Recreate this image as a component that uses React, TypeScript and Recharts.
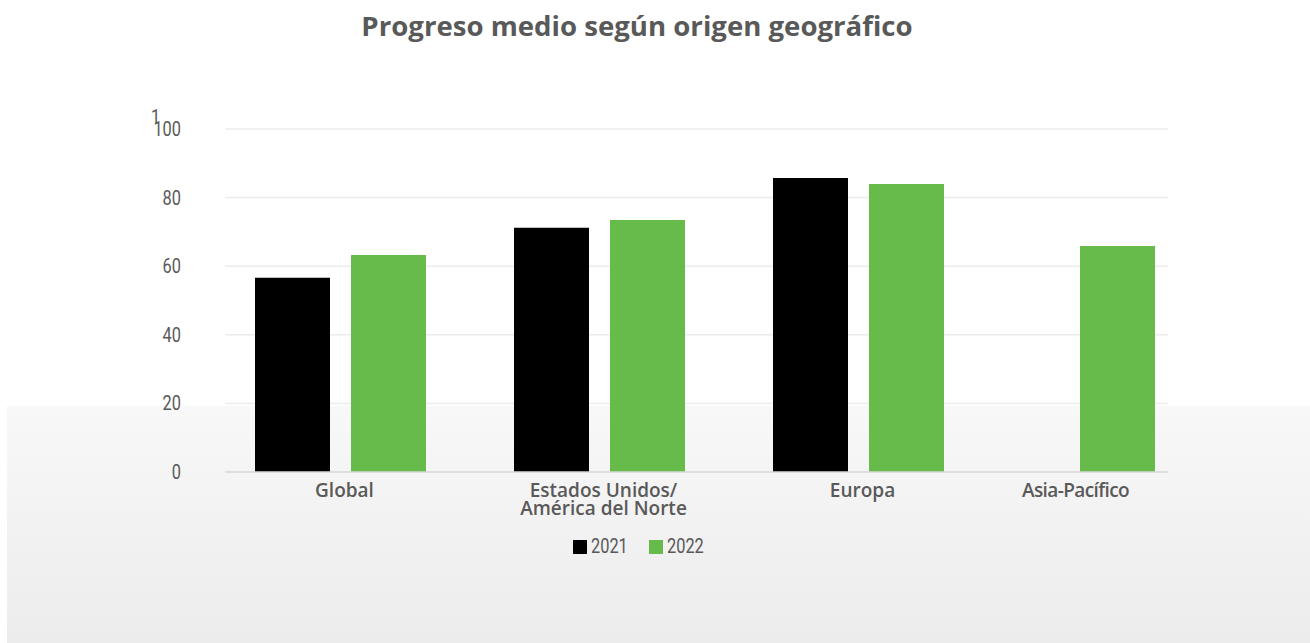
import { BarChart, Bar, XAxis, YAxis, CartesianGrid, Legend } from "recharts";

const categories = ["Global", "Estados Unidos/\nAmérica del Norte", "Europa", "Asia-Pacífico"];
const values2021: (number | null)[] = [56.6, 71.2, 85.7, null];
const values2022 = [63.3, 73.5, 84.0, 65.9];
const yTicks = [0, 20, 40, 60, 80, 100];

// categories without a 2021 value get their 2022 bar centred on its own axis
const data = categories.map((name, i) => ({
  name,
  y2021: values2021[i],
  y2022: values2021[i] == null ? null : values2022[i],
  solo: values2021[i] == null ? values2022[i] : null,
}));

const GRAY = "#595959";
const GREEN = "#66bb4a";
const NARROW_SCALE = 0.84;

function CategoryTick({ x, y, payload, index }: any) {
  const lines = String(payload.value).split("\n");
  const dx = index === 3 ? -42 : 4;
  return (
    <text
      x={x + dx}
      y={y}
      textAnchor="middle"
      fill={GRAY}
      fontFamily="'Open Sans', sans-serif"
      fontWeight={600}
      fontSize={19}
      letterSpacing={index === 3 ? -0.6 : 0}
    >
      {lines.map((l, i) => (
        <tspan key={i} x={x + dx} dy={i === 0 ? 25 : 18}>
          {l}
        </tspan>
      ))}
    </text>
  );
}

// condensed look: Roboto squeezed horizontally
function ValueTick({ x, y, payload }: any) {
  return (
    <text
      transform={`translate(${x},${y}) scale(${NARROW_SCALE},1)`}
      textAnchor="end"
      dy="0.36em"
      fill={GRAY}
      fontFamily="Roboto, sans-serif"
      fontSize={19.5}
    >
      {payload.value}
    </text>
  );
}

function LegendContent({ payload }: any) {
  const items = (payload || []).filter((p: any) => p.type !== "none");
  return (
    <div style={{ display: "flex", justifyContent: "center", gap: 22 }}>
      {items.map((p: any) => (
        <div key={p.value} style={{ display: "flex", alignItems: "center" }}>
          <span style={{ width: 14, height: 14, background: p.color, marginRight: 4 }} />
          <span style={{ display: "inline-block", width: 36, whiteSpace: "nowrap" }}>
            <span
              style={{
                display: "inline-block",
                transform: `scaleX(${NARROW_SCALE})`,
                transformOrigin: "left center",
                fontFamily: "Roboto, sans-serif",
                fontSize: 19.5,
                color: GRAY,
              }}
            >
              {p.value}
            </span>
          </span>
        </div>
      ))}
    </div>
  );
}

export default function App() {
  return (
    <div style={{ position: "absolute", left: 0, top: 0, width: 1310, height: 643, background: "#fff", overflow: "hidden" }}>
      <div
        style={{
          position: "absolute",
          left: 7,
          top: 406,
          right: 0,
          bottom: 0,
          background: "linear-gradient(#f8f8f8, #ececec)",
        }}
      />
      <div
        style={{
          position: "absolute",
          left: 0,
          width: 1274,
          top: 6,
          textAlign: "center",
          fontFamily: "'Open Sans', sans-serif",
          fontWeight: 700,
          fontSize: 27.6,
          color: GRAY,
        }}
      >
        Progreso medio según origen geográfico
      </div>
      <div
        style={{
          position: "absolute",
          left: 151,
          top: 106,
          fontFamily: "Roboto, sans-serif",
          fontSize: 19.5,
          color: GRAY,
          transform: `scaleX(${NARROW_SCALE})`,
          transformOrigin: "left top",
        }}
      >
        1
      </div>
      <div style={{ position: "absolute", left: 0, top: 0 }}>
        <BarChart
          width={1310}
          height={643}
          data={data}
          margin={{ top: 129, right: 142, left: 165, bottom: 111 }}
          barGap={21}
        >
          <CartesianGrid vertical={false} stroke="#ececec" strokeWidth={1.5} />
          <XAxis
            dataKey="name"
            padding={{ left: -14, right: -79 }}
            height={60}
            tickLine={false}
            tickSize={0}
            tickMargin={0}
            axisLine={{ stroke: "#d9d9d9", strokeWidth: 1.5 }}
            tick={<CategoryTick />}
            interval={0}
          />
          <XAxis xAxisId="solo" dataKey="name" hide padding={{ left: -14, right: -79 }} />
          <YAxis
            width={60}
            domain={[0, 100]}
            ticks={yTicks}
            axisLine={false}
            tickLine={false}
            tickSize={0}
            tickMargin={44}
            tick={<ValueTick />}
          />
          <Legend
            verticalAlign="middle"
            content={<LegendContent />}
            wrapperStyle={{ top: 535, left: 0, width: 1276 }}
          />
          <Bar dataKey="y2021" name="2021" fill="#000000" barSize={75} isAnimationActive={false} />
          <Bar dataKey="y2022" name="2022" fill={GREEN} barSize={75} isAnimationActive={false} />
          <Bar xAxisId="solo" dataKey="solo" fill={GREEN} barSize={75} legendType="none" isAnimationActive={false} />
        </BarChart>
      </div>
    </div>
  );
}
